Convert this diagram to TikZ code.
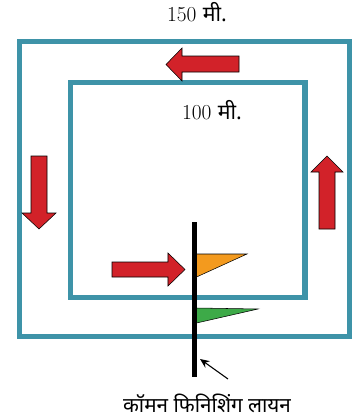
\documentclass[tikz,border=0pt]{standalone}
\usepackage{fontspec}
\usepackage{tikz}
\usetikzlibrary{arrows.meta}
\newfontfamily\deva[Script=Devanagari]{Noto Sans}
\definecolor{trackteal}{RGB}{62, 147, 168}
\definecolor{arrowred}{RGB}{210, 34, 41}
\definecolor{flagorange}{RGB}{243, 154, 30}
\definecolor{flaggreen}{RGB}{61, 170, 72}

\begin{document}
\begin{tikzpicture}[
    x=0.75pt, y=-0.75pt,
    every node/.style={align=center, inner sep=0pt},
    track/.style={draw=trackteal, line width=3.75pt},
    runarrow/.style={draw=black, fill=arrowred, line width=0.4pt, line join=miter},
    flag/.style={draw=black, line width=0.4pt},
    pole/.style={line width=3.4pt, black},
    pointer/.style={line width=0.8pt, -{Stealth[length=7pt, width=6pt]}},
    label/.style={font=\fontsize{16}{18}\selectfont},
    caption/.style={font=\fontsize{15.5}{18}\selectfont\deva}
]
\useasboundingbox (0,0) rectangle (356,419);

% Tracks
\draw[track] (19.5,41.5) rectangle (349.5,336.5);
\draw[track] (70.5,82.5) rectangle (305,297.5);

% Lengths
\node[label] (outer) at (197,12) {150 {\deva मी.}};
\node[label] (inner) at (212,110) {100 {\deva मी.}};

% Running direction
\draw[runarrow] (239,56) -- (182,56) -- (182,48) -- (166,64.5) -- (182,81) -- (182,72) -- (239,72) -- cycle;
\draw[runarrow] (31,156) -- (47,156) -- (47,213) -- (56,213) -- (39,229) -- (22,213) -- (31,213) -- cycle;
\draw[runarrow] (319,229) -- (319,172) -- (311,172) -- (327,156) -- (343,172) -- (335,172) -- (335,229) -- cycle;
\draw[runarrow] (112,262) -- (168,262) -- (168,253) -- (185,269.5) -- (168,286) -- (168,277) -- (112,277) -- cycle;

% Finishing line with flags
\coordinate (poletop) at (194.5,222);
\coordinate (polebot) at (194.5,377);
\draw[pole] (poletop) -- (polebot);
\draw[flag, fill=flagorange] (196.5,254) -- (247,254) -- (196.5,277) -- cycle;
\draw[flag, fill=flaggreen] (196.5,308) -- (258,309) -- (196.5,323) -- cycle;

% Pointer and caption
\coordinate (tail) at (228,379);
\coordinate (tip) at (200,359);
\draw[pointer] (tail) -- (tip);
\node[caption] (finish) at (207,403) {कॉमन फिनिशिंग लायन};

\end{tikzpicture}
\end{document}
